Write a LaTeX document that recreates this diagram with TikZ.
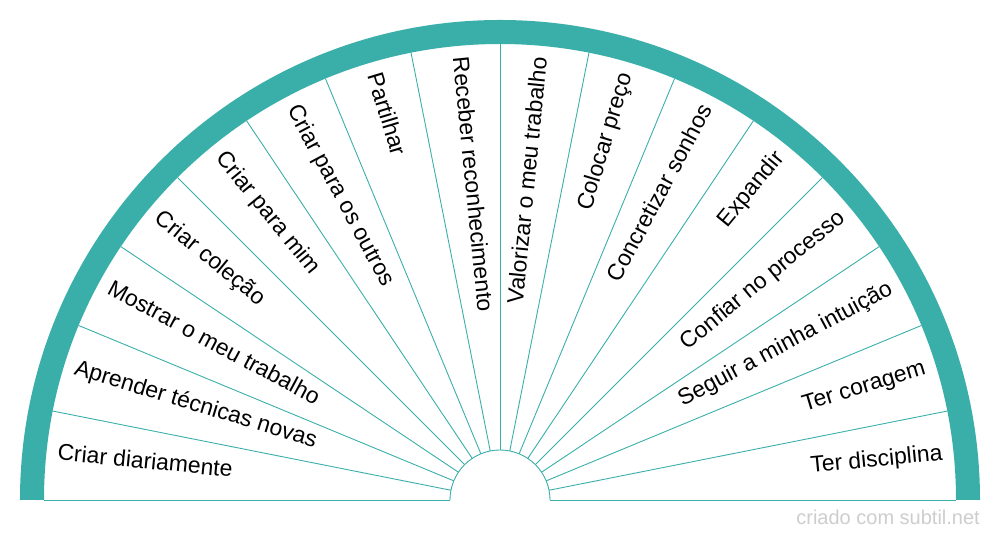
\documentclass[tikz,border=0pt]{standalone}
\usepackage{fontspec}
\setmainfont{Liberation Sans}
\definecolor{band}{RGB}{58,175,169}
\definecolor{wm}{RGB}{205,205,205}
\begin{document}
\begin{tikzpicture}[x=1pt,y=1pt,
  spoke/.style={draw=band, line width=0.9pt},
  lab/.style={font=\fontsize{22.9}{27}\selectfont, inner sep=0pt, text height=0.716em, text depth=0pt, text=black}]
\useasboundingbox (-500,-40) rectangle (500,500);
% outer band
\fill[band] (-480,0) arc[start angle=180,end angle=0,radius=480] -- (456,0) arc[start angle=0,end angle=180,radius=456] -- cycle;
% spokes
\foreach \i in {0,...,16} {
  \pgfmathsetmacro\a{180-\i*11.25}
  \coordinate (in\i) at (\a:50);
  \coordinate (out\i) at (\a:456);
  \draw[spoke] (in\i) -- (out\i);
}
% inner arc
\draw[spoke] (50,0) arc[start angle=0,end angle=180,radius=50];
% left labels
\foreach \t [count=\k from 0] in {Criar diariamente, Aprender técnicas novas, Mostrar o meu trabalho, Criar coleção, Criar para mim, Criar para os outros, Partilhar, Receber reconhecimento} {
  \pgfmathsetmacro\a{180-(\k+0.5)*11.25}
  \node[lab, anchor=west, rotate=\a-180] (L\k) at (\a:445) {\t};
}
% right labels
\foreach \t [count=\k from 8] in {Valorizar o meu trabalho, Colocar preço, Concretizar sonhos, Expandir, Confiar no processo, Seguir a minha intuição, Ter coragem, Ter disciplina} {
  \pgfmathsetmacro\a{180-(\k+0.5)*11.25}
  \node[lab, anchor=east, rotate=\a] (L\k) at (\a:445) {\t};
}
% watermark
\node[anchor=base east, text=wm, font=\fontsize{20}{24}\selectfont, inner sep=0pt] (wm) at (480,-25) {criado com subtil.net};
\end{tikzpicture}
\end{document}
